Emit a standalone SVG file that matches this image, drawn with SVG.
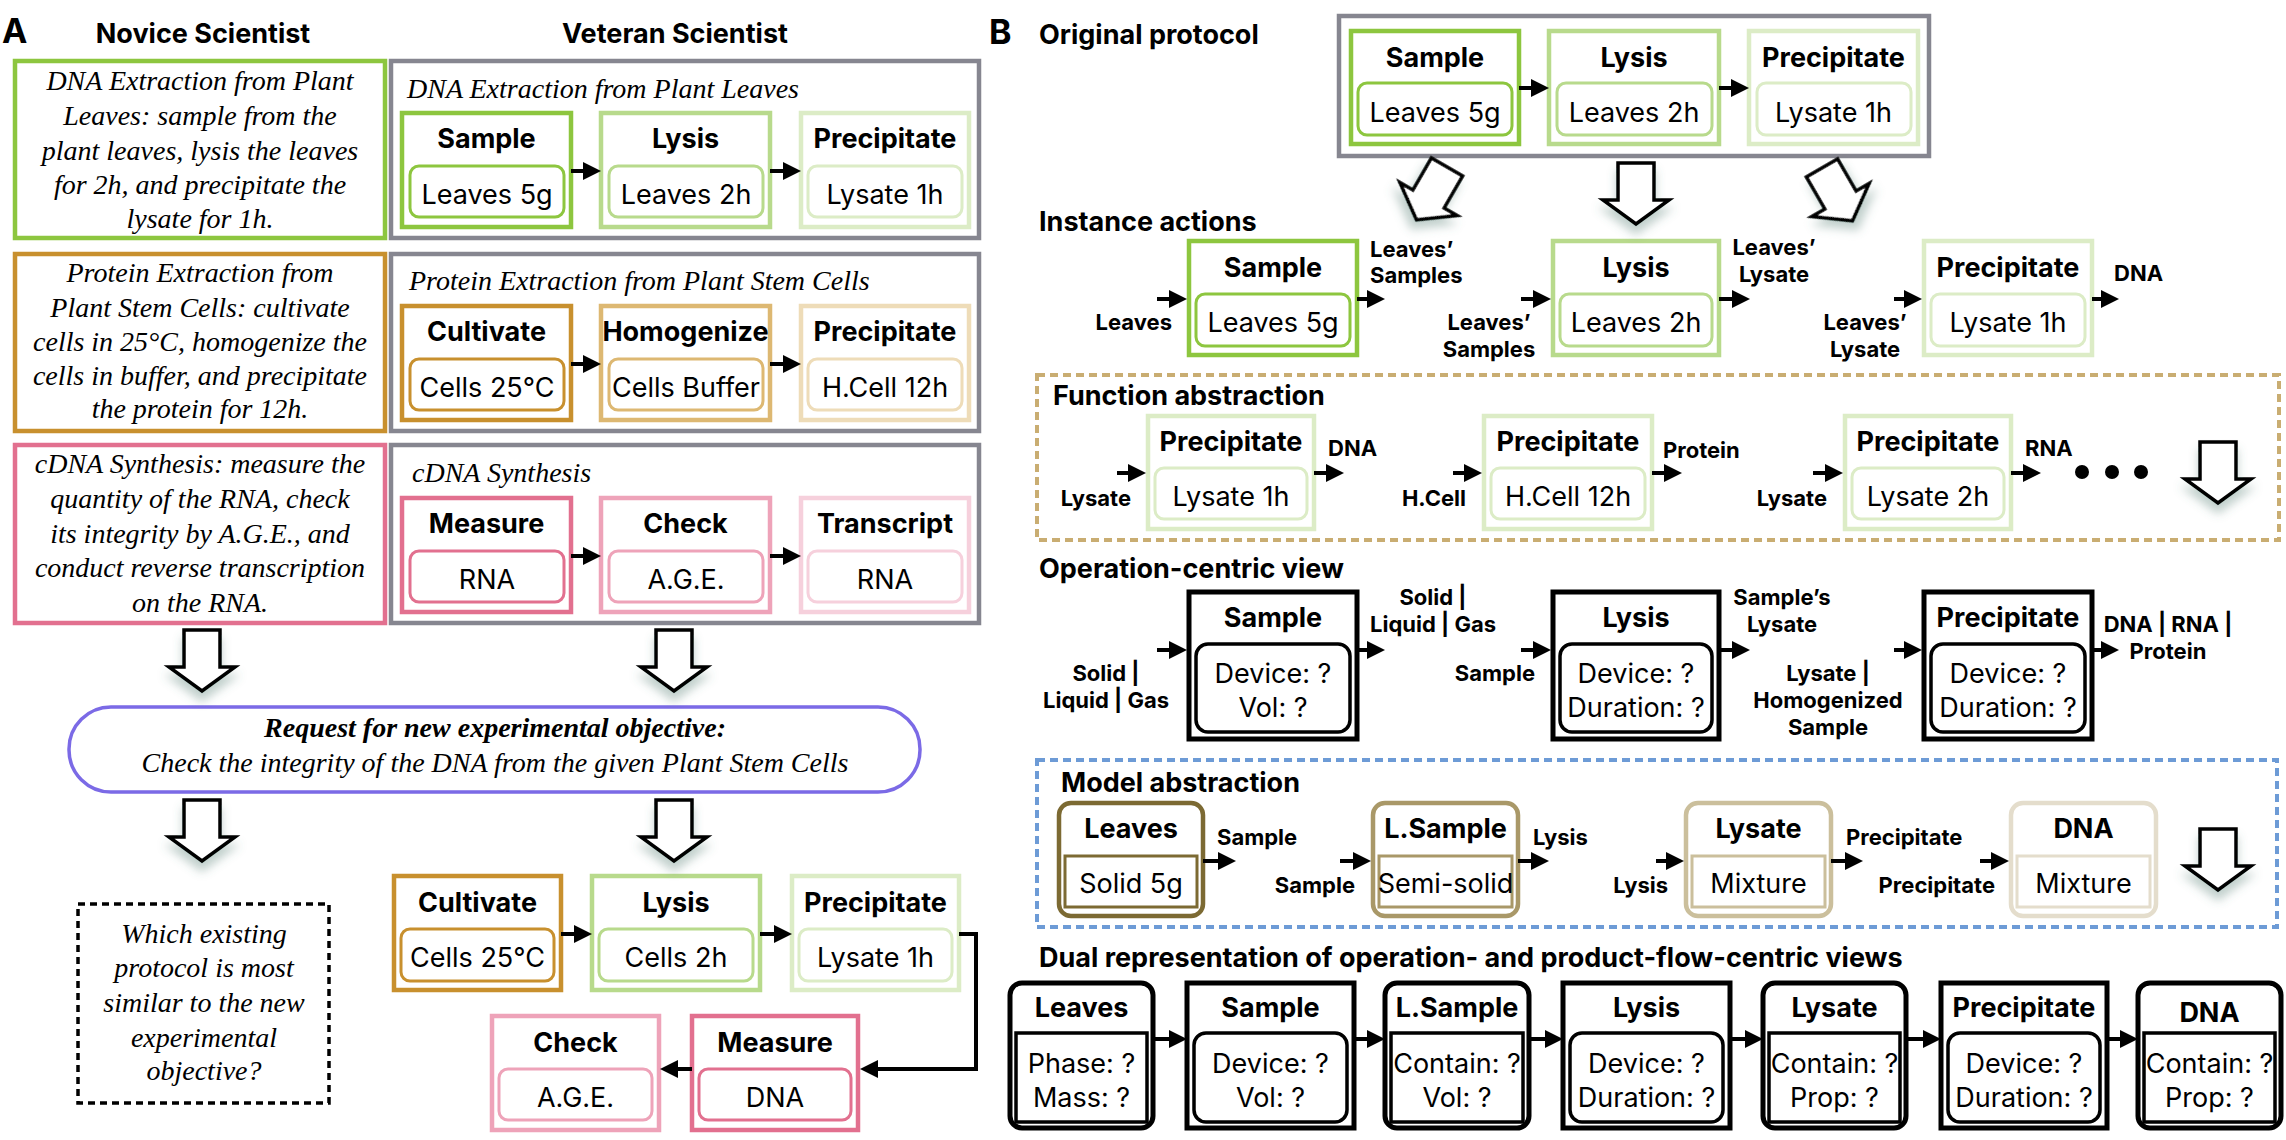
<svg xmlns="http://www.w3.org/2000/svg" width="2286" height="1140" viewBox="0 0 2286 1140">
<defs>
<style>
.bg{fill:#ffffff}
.box{fill:#fff;stroke-width:4.5}
.inr{fill:#fff;stroke-width:3}
.blk{fill:#fff;stroke:#000;stroke-width:5}
.blki{fill:#fff;stroke:#000;stroke-width:3.5}
.t{font-family:Inter,"Liberation Sans",sans-serif;font-weight:700;font-size:27px;text-anchor:middle;fill:#000}
.v{font-family:Inter,"Liberation Sans",sans-serif;font-weight:400;font-size:27px;text-anchor:middle;fill:#000}
.l{font-family:Inter,"Liberation Sans",sans-serif;font-weight:700;font-size:22px;fill:#000}
.lm{text-anchor:middle}
.le{text-anchor:end}
.h{font-family:Inter,"Liberation Sans",sans-serif;font-weight:700;font-size:27px;fill:#000}
.s{font-family:"Liberation Serif",serif;font-style:italic;font-size:28px;fill:#000}
.sm{text-anchor:middle}
.con{fill:none;stroke:#000;stroke-width:4}
.hol{fill:#fff;stroke:#000;stroke-width:3.5;stroke-linejoin:miter}
.g1{stroke:#8dc63f}.g2{stroke:#b8da8c}.g3{stroke:#dcecc6}
.o1{stroke:#c8902e}.o2{stroke:#ddb872}.o3{stroke:#eedcb8}
.p1{stroke:#e2708f}.p2{stroke:#eea3b9}.p3{stroke:#f6d0dc}
.gr{fill:#fff;stroke:#868690;stroke-width:4.5}
.m1{stroke:#7c6a33}.m2{stroke:#a99868}.m3{stroke:#cbbf9c}.m4{stroke:#e4ddcc}
</style>
<marker id="ah" markerUnits="userSpaceOnUse" markerWidth="18" markerHeight="18" refX="1" refY="9" orient="auto">
<path d="M0,0 L18,9 L0,18 Z" fill="#000"/>
</marker>
<filter id="sh" x="-60%" y="-40%" width="220%" height="200%">
<feDropShadow dx="0" dy="9" stdDeviation="5" flood-color="#4d7a70" flood-opacity="0.35"/>
</filter>
<path id="hollow" d="M-18,0 H18 V37 H33 L0,61 L-33,37 H-18 Z"/>
</defs>
<rect class="bg" x="0" y="0" width="2286" height="1140"/>

<!-- Panel A headers -->
<text class="h" x="2" y="43" style="font-size:34px">A</text>
<text class="h" x="203" y="43" text-anchor="middle">Novice Scientist</text>
<text class="h" x="675" y="43" text-anchor="middle">Veteran Scientist</text>

<!-- Novice boxes -->
<g id="novice-dna">
<rect class="box g1" x="15" y="61" width="370" height="177"/>
<text class="s sm" x="200" y="90">DNA Extraction from Plant</text>
<text class="s sm" x="200" y="125">Leaves: sample from the</text>
<text class="s sm" x="200" y="160">plant leaves, lysis the leaves</text>
<text class="s sm" x="200" y="194">for 2h, and precipitate the</text>
<text class="s sm" x="200" y="228">lysate for 1h.</text>
</g>
<g id="novice-protein">
<rect class="box o1" x="15" y="254" width="370" height="177"/>
<text class="s sm" x="200" y="282">Protein Extraction from</text>
<text class="s sm" x="200" y="317">Plant Stem Cells: cultivate</text>
<text class="s sm" x="200" y="351">cells in 25°C, homogenize the</text>
<text class="s sm" x="200" y="385">cells in buffer, and precipitate</text>
<text class="s sm" x="200" y="418">the protein for 12h.</text>
</g>
<g id="novice-cdna">
<rect class="box p1" x="15" y="445" width="370" height="178"/>
<text class="s sm" x="200" y="473">cDNA Synthesis: measure the</text>
<text class="s sm" x="200" y="508">quantity of the RNA, check</text>
<text class="s sm" x="200" y="543">its integrity by A.G.E., and</text>
<text class="s sm" x="200" y="577">conduct reverse transcription</text>
<text class="s sm" x="200" y="612">on the RNA.</text>
</g>

<!-- Veteran protocol 1 -->
<g id="vet-dna">
<rect class="gr" x="391" y="61" width="588" height="177"/>
<text class="s" x="407" y="98">DNA Extraction from Plant Leaves</text>
</g>
<g id="vet-dna-sample">
<rect class="box g1" x="402" y="113" width="169" height="114"/>
<rect class="inr g1" x="410" y="166" width="154" height="51" rx="9"/>
<text class="t" x="486.5" y="148">Sample</text>
<text class="v" x="487" y="204">Leaves 5g</text>
</g>
<g id="vet-dna-lysis">
<rect class="box g2" x="601" y="113" width="169" height="114"/>
<rect class="inr g2" x="609" y="166" width="154" height="51" rx="9"/>
<text class="t" x="685.5" y="148">Lysis</text>
<text class="v" x="686" y="204">Leaves 2h</text>
</g>
<g id="vet-dna-precip">
<rect class="box g3" x="801" y="113" width="168" height="114"/>
<rect class="inr g3" x="808" y="166" width="154" height="51" rx="9"/>
<text class="t" x="885" y="148">Precipitate</text>
<text class="v" x="885" y="204">Lysate 1h</text>
</g>

<!-- Veteran protocol 2 -->
<g id="vet-protein">
<rect class="gr" x="391" y="254" width="588" height="177"/>
<text class="s" x="409" y="290">Protein Extraction from Plant Stem Cells</text>
</g>
<g id="vet-protein-cultivate">
<rect class="box o1" x="402" y="306" width="169" height="114"/>
<rect class="inr o1" x="410" y="359" width="154" height="51" rx="9"/>
<text class="t" x="486.5" y="341">Cultivate</text>
<text class="v" x="487" y="397">Cells 25°C</text>
</g>
<g id="vet-protein-homogenize">
<rect class="box o2" x="601" y="306" width="169" height="114"/>
<rect class="inr o2" x="609" y="359" width="154" height="51" rx="9"/>
<text class="t" x="685.5" y="341">Homogenize</text>
<text class="v" x="686" y="397">Cells Buffer</text>
</g>
<g id="vet-protein-precip">
<rect class="box o3" x="801" y="306" width="168" height="114"/>
<rect class="inr o3" x="808" y="359" width="154" height="51" rx="9"/>
<text class="t" x="885" y="341">Precipitate</text>
<text class="v" x="885" y="397">H.Cell 12h</text>
</g>

<!-- Veteran protocol 3 -->
<g id="vet-cdna">
<rect class="gr" x="391" y="445" width="588" height="178"/>
<text class="s" x="412" y="482">cDNA Synthesis</text>
</g>
<g id="vet-cdna-measure">
<rect class="box p1" x="402" y="498" width="169" height="114"/>
<rect class="inr p1" x="410" y="551" width="154" height="51" rx="9"/>
<text class="t" x="486.5" y="533">Measure</text>
<text class="v" x="487" y="589">RNA</text>
</g>
<g id="vet-cdna-check">
<rect class="box p2" x="601" y="498" width="169" height="114"/>
<rect class="inr p2" x="609" y="551" width="154" height="51" rx="9"/>
<text class="t" x="685.5" y="533">Check</text>
<text class="v" x="686" y="589">A.G.E.</text>
</g>
<g id="vet-cdna-transcript">
<rect class="box p3" x="801" y="498" width="168" height="114"/>
<rect class="inr p3" x="808" y="551" width="154" height="51" rx="9"/>
<text class="t" x="885" y="533">Transcript</text>
<text class="v" x="885" y="589">RNA</text>
</g>

<!-- Request -->
<g id="request">
<rect x="69" y="707" width="851" height="85" rx="42" fill="#fff" stroke="#7b6ae6" stroke-width="3.5"/>
<text class="s sm" x="495" y="737" font-weight="700">Request for new experimental objective:</text>
<text class="s sm" x="495" y="772">Check the integrity of the DNA from the given Plant Stem Cells</text>
</g>

<!-- Question -->
<g id="question">
<rect x="78" y="904" width="251" height="199" fill="#fff" stroke="#000" stroke-width="3.5" stroke-dasharray="7 5"/>
<text class="s sm" x="204" y="943">Which existing</text>
<text class="s sm" x="204" y="977">protocol is most</text>
<text class="s sm" x="204" y="1012">similar to the new</text>
<text class="s sm" x="204" y="1047">experimental</text>
<text class="s sm" x="204" y="1080">objective?</text>
</g>

<!-- New workflow -->
<g id="new-cultivate">
<rect class="box o1" x="394" y="876" width="167" height="114"/>
<rect class="inr o1" x="401" y="929" width="153" height="52" rx="9"/>
<text class="t" x="477.5" y="912">Cultivate</text>
<text class="v" x="477.5" y="967">Cells 25°C</text>
</g>
<g id="new-lysis">
<rect class="box g2" x="592" y="876" width="168" height="114"/>
<rect class="inr g2" x="599" y="929" width="154" height="52" rx="9"/>
<text class="t" x="676" y="912">Lysis</text>
<text class="v" x="676" y="967">Cells 2h</text>
</g>
<g id="new-precip">
<rect class="box g3" x="792" y="876" width="167" height="114"/>
<rect class="inr g3" x="799" y="929" width="153" height="52" rx="9"/>
<text class="t" x="875.5" y="912">Precipitate</text>
<text class="v" x="875.5" y="967">Lysate 1h</text>
</g>
<g id="new-measure">
<rect class="box p1" x="692" y="1016" width="166" height="114"/>
<rect class="inr p1" x="699" y="1069" width="152" height="51" rx="9"/>
<text class="t" x="775" y="1052">Measure</text>
<text class="v" x="775" y="1107">DNA</text>
</g>
<g id="new-check">
<rect class="box p2" x="492" y="1016" width="167" height="114"/>
<rect class="inr p2" x="499" y="1069" width="153" height="51" rx="9"/>
<text class="t" x="575.5" y="1052">Check</text>
<text class="v" x="575.5" y="1107">A.G.E.</text>
</g>

<!-- Panel B -->
<text class="h" x="989" y="44" style="font-size:34px">B</text>
<text class="h" x="1039" y="44">Original protocol</text>
<text class="h" x="1039" y="231">Instance actions</text>
<text class="h" x="1039" y="578">Operation-centric view</text>
<text class="h" x="1039" y="967">Dual representation of operation- and product-flow-centric views</text>

<g id="orig">
<rect class="gr" x="1339" y="16" width="590" height="140"/>
</g>
<g id="orig-sample">
<rect class="box g1" x="1351" y="31" width="168" height="113"/>
<rect class="inr g1" x="1358" y="83" width="154" height="52" rx="9"/>
<text class="t" x="1435" y="67">Sample</text>
<text class="v" x="1435" y="122">Leaves 5g</text>
</g>
<g id="orig-lysis">
<rect class="box g2" x="1549" y="31" width="170" height="113"/>
<rect class="inr g2" x="1557" y="83" width="155" height="52" rx="9"/>
<text class="t" x="1634" y="67">Lysis</text>
<text class="v" x="1634" y="122">Leaves 2h</text>
</g>
<g id="orig-precip">
<rect class="box g3" x="1749" y="31" width="169" height="113"/>
<rect class="inr g3" x="1757" y="83" width="154" height="52" rx="9"/>
<text class="t" x="1833.5" y="67">Precipitate</text>
<text class="v" x="1833.5" y="122">Lysate 1h</text>
</g>

<!-- Instance actions -->
<g id="inst-sample">
<rect class="box g1" x="1189" y="241" width="168" height="114"/>
<rect class="inr g1" x="1196" y="294" width="154" height="52" rx="9"/>
<text class="t" x="1273" y="277">Sample</text>
<text class="v" x="1273" y="332">Leaves 5g</text>
</g>
<g id="inst-lysis">
<rect class="box g2" x="1553" y="241" width="166" height="114"/>
<rect class="inr g2" x="1560" y="294" width="152" height="52" rx="9"/>
<text class="t" x="1636" y="277">Lysis</text>
<text class="v" x="1636" y="332">Leaves 2h</text>
</g>
<g id="inst-precip">
<rect class="box g3" x="1924" y="241" width="168" height="114"/>
<rect class="inr g3" x="1931" y="294" width="154" height="52" rx="9"/>
<text class="t" x="2008" y="277">Precipitate</text>
<text class="v" x="2008" y="332">Lysate 1h</text>
</g>
<g id="inst-labels">
<text class="l le" x="1172" y="330">Leaves</text>
<text class="l" x="1370" y="257">Leaves’</text>
<text class="l" x="1370" y="283">Samples</text>
<text class="l lm" x="1489" y="330">Leaves’</text>
<text class="l lm" x="1489" y="357">Samples</text>
<text class="l lm" x="1774" y="255">Leaves’</text>
<text class="l lm" x="1774" y="282">Lysate</text>
<text class="l lm" x="1865" y="330">Leaves’</text>
<text class="l lm" x="1865" y="357">Lysate</text>
<text class="l" x="2114" y="281">DNA</text>
</g>

<!-- Function abstraction -->
<g id="func">
<rect x="1037" y="375" width="1242" height="165" fill="none" stroke="#c9ad72" stroke-width="4" stroke-dasharray="8 5"/>
<text class="h" x="1053" y="405">Function abstraction</text>
</g>
<g id="func-1">
<rect class="box g3" x="1148" y="416" width="166" height="113"/>
<rect class="inr g3" x="1155" y="468" width="152" height="51" rx="9"/>
<text class="t" x="1231" y="451">Precipitate</text>
<text class="v" x="1231" y="506">Lysate 1h</text>
</g>
<g id="func-2">
<rect class="box g3" x="1484" y="416" width="168" height="113"/>
<rect class="inr g3" x="1491" y="468" width="154" height="51" rx="9"/>
<text class="t" x="1568" y="451">Precipitate</text>
<text class="v" x="1568" y="506">H.Cell 12h</text>
</g>
<g id="func-3">
<rect class="box g3" x="1845" y="416" width="166" height="113"/>
<rect class="inr g3" x="1852" y="468" width="152" height="51" rx="9"/>
<text class="t" x="1928" y="451">Precipitate</text>
<text class="v" x="1928" y="506">Lysate 2h</text>
</g>
<g id="func-labels">
<text class="l le" x="1131" y="506">Lysate</text>
<text class="l" x="1328" y="456">DNA</text>
<text class="l le" x="1466" y="506">H.Cell</text>
<text class="l" x="1663" y="458">Protein</text>
<text class="l le" x="1827" y="506">Lysate</text>
<text class="l" x="2025" y="456">RNA</text>
<circle cx="2082" cy="472" r="7"/>
<circle cx="2112" cy="472" r="7"/>
<circle cx="2141" cy="472" r="7"/>
</g>

<!-- Operation-centric -->
<g id="op-sample">
<rect class="blk" x="1189" y="592" width="168" height="147"/>
<rect class="blki" x="1196" y="644" width="154" height="88" rx="12"/>
<text class="t" x="1273" y="627">Sample</text>
<text class="v" x="1273" y="683">Device: ?</text>
<text class="v" x="1273" y="717">Vol: ?</text>
</g>
<g id="op-lysis">
<rect class="blk" x="1553" y="592" width="166" height="147"/>
<rect class="blki" x="1560" y="644" width="152" height="88" rx="12"/>
<text class="t" x="1636" y="627">Lysis</text>
<text class="v" x="1636" y="683">Device: ?</text>
<text class="v" x="1636" y="717">Duration: ?</text>
</g>
<g id="op-precip">
<rect class="blk" x="1924" y="592" width="168" height="147"/>
<rect class="blki" x="1931" y="644" width="154" height="88" rx="12"/>
<text class="t" x="2008" y="627">Precipitate</text>
<text class="v" x="2008" y="683">Device: ?</text>
<text class="v" x="2008" y="717">Duration: ?</text>
</g>
<g id="op-labels">
<text class="l lm" x="1106" y="681">Solid |</text>
<text class="l lm" x="1106" y="708">Liquid | Gas</text>
<text class="l lm" x="1433" y="605">Solid |</text>
<text class="l lm" x="1433" y="632">Liquid | Gas</text>
<text class="l le" x="1535" y="681">Sample</text>
<text class="l lm" x="1782" y="605">Sample’s</text>
<text class="l lm" x="1782" y="632">Lysate</text>
<text class="l lm" x="1828" y="681">Lysate |</text>
<text class="l lm" x="1828" y="708">Homogenized</text>
<text class="l lm" x="1828" y="735">Sample</text>
<text class="l lm" x="2168" y="632">DNA | RNA |</text>
<text class="l lm" x="2168" y="659">Protein</text>
</g>

<!-- Model abstraction -->
<g id="model">
<rect x="1037" y="760" width="1240" height="167" fill="none" stroke="#6d9bd6" stroke-width="4" stroke-dasharray="8 5"/>
<text class="h" x="1061" y="792">Model abstraction</text>
</g>
<g id="model-leaves">
<rect class="box m1" x="1059" y="803" width="144" height="113" rx="12"/>
<rect class="inr m1" x="1065" y="856" width="132" height="51" stroke-width="3.5"/>
<text class="t" x="1131" y="838">Leaves</text>
<text class="v" x="1131" y="893">Solid 5g</text>
</g>
<g id="model-lsample">
<rect class="box m2" x="1373" y="803" width="145" height="113" rx="12"/>
<rect class="inr m2" x="1379" y="856" width="133" height="51" stroke-width="3.5"/>
<text class="t" x="1445.5" y="838">L.Sample</text>
<text class="v" x="1445.5" y="893">Semi-solid</text>
</g>
<g id="model-lysate">
<rect class="box m3" x="1686" y="803" width="145" height="113" rx="12"/>
<rect class="inr m3" x="1692" y="856" width="133" height="51" stroke-width="3.5"/>
<text class="t" x="1758.5" y="838">Lysate</text>
<text class="v" x="1758.5" y="893">Mixture</text>
</g>
<g id="model-dna">
<rect class="box m4" x="2011" y="803" width="145" height="113" rx="12"/>
<rect class="inr m4" x="2017" y="856" width="133" height="51" stroke-width="3.5"/>
<text class="t" x="2083.5" y="838">DNA</text>
<text class="v" x="2083.5" y="893">Mixture</text>
</g>
<g id="model-labels">
<text class="l" x="1217" y="845">Sample</text>
<text class="l le" x="1355" y="893">Sample</text>
<text class="l" x="1533" y="845">Lysis</text>
<text class="l le" x="1668" y="893">Lysis</text>
<text class="l" x="1846" y="845">Precipitate</text>
<text class="l le" x="1995" y="893">Precipitate</text>
</g>

<!-- Dual representation -->
<g id="dual-leaves">
<rect class="blk" x="1010" y="983" width="143" height="145" rx="12"/>
<rect class="blki" x="1016" y="1033" width="131" height="89"/>
<text class="t" x="1081.5" y="1017">Leaves</text>
<text class="v" x="1081.5" y="1073">Phase: ?</text>
<text class="v" x="1081.5" y="1107">Mass: ?</text>
</g>
<g id="dual-sample">
<rect class="blk" x="1187" y="983" width="167" height="145"/>
<rect class="blki" x="1194" y="1033" width="153" height="89" rx="12"/>
<text class="t" x="1270.5" y="1017">Sample</text>
<text class="v" x="1270.5" y="1073">Device: ?</text>
<text class="v" x="1270.5" y="1107">Vol: ?</text>
</g>
<g id="dual-lsample">
<rect class="blk" x="1385" y="983" width="144" height="145" rx="12"/>
<rect class="blki" x="1391" y="1033" width="132" height="89"/>
<text class="t" x="1457" y="1017">L.Sample</text>
<text class="v" x="1457" y="1073">Contain: ?</text>
<text class="v" x="1457" y="1107">Vol: ?</text>
</g>
<g id="dual-lysis">
<rect class="blk" x="1563" y="983" width="167" height="145"/>
<rect class="blki" x="1570" y="1033" width="153" height="89" rx="12"/>
<text class="t" x="1646.5" y="1017">Lysis</text>
<text class="v" x="1646.5" y="1073">Device: ?</text>
<text class="v" x="1646.5" y="1107">Duration: ?</text>
</g>
<g id="dual-lysate">
<rect class="blk" x="1763" y="983" width="143" height="145" rx="12"/>
<rect class="blki" x="1769" y="1033" width="131" height="89"/>
<text class="t" x="1834.5" y="1017">Lysate</text>
<text class="v" x="1834.5" y="1073">Contain: ?</text>
<text class="v" x="1834.5" y="1107">Prop: ?</text>
</g>
<g id="dual-precip">
<rect class="blk" x="1941" y="983" width="166" height="145"/>
<rect class="blki" x="1948" y="1033" width="152" height="89" rx="12"/>
<text class="t" x="2024" y="1017">Precipitate</text>
<text class="v" x="2024" y="1073">Device: ?</text>
<text class="v" x="2024" y="1107">Duration: ?</text>
</g>
<g id="dual-dna">
<rect class="blk" x="2138" y="983" width="143" height="145" rx="12"/>
<rect class="blki" x="2144" y="1033" width="131" height="89"/>
<text class="t" x="2209.5" y="1022">DNA</text>
<text class="v" x="2209.5" y="1073">Contain: ?</text>
<text class="v" x="2209.5" y="1107">Prop: ?</text>
</g>

<!-- Connectors -->
<g id="connectors">
<path class="con" marker-end="url(#ah)" d="M571,171 H584"/>
<path class="con" marker-end="url(#ah)" d="M770,171 H784"/>
<path class="con" marker-end="url(#ah)" d="M571,364 H584"/>
<path class="con" marker-end="url(#ah)" d="M770,364 H784"/>
<path class="con" marker-end="url(#ah)" d="M571,556 H584"/>
<path class="con" marker-end="url(#ah)" d="M770,556 H784"/>
<path class="con" marker-end="url(#ah)" d="M561,934 H575"/>
<path class="con" marker-end="url(#ah)" d="M760,934 H775"/>
<path class="con" marker-end="url(#ah)" d="M959,934 H976 V1069 H877"/>
<path class="con" marker-end="url(#ah)" d="M692,1069 H677"/>

<path class="con" marker-end="url(#ah)" d="M1519,88 H1532"/>
<path class="con" marker-end="url(#ah)" d="M1719,88 H1732"/>

<path class="con" marker-end="url(#ah)" d="M1157,299 H1170"/>
<path class="con" marker-end="url(#ah)" d="M1357,299 H1368"/>
<path class="con" marker-end="url(#ah)" d="M1521,299 H1534"/>
<path class="con" marker-end="url(#ah)" d="M1719,299 H1733"/>
<path class="con" marker-end="url(#ah)" d="M1894,299 H1905"/>
<path class="con" marker-end="url(#ah)" d="M2092,299 H2102"/>

<path class="con" marker-end="url(#ah)" d="M1117,473 H1129"/>
<path class="con" marker-end="url(#ah)" d="M1314,473 H1327"/>
<path class="con" marker-end="url(#ah)" d="M1453,473 H1465"/>
<path class="con" marker-end="url(#ah)" d="M1652,473 H1665"/>
<path class="con" marker-end="url(#ah)" d="M1813,473 H1826"/>
<path class="con" marker-end="url(#ah)" d="M2011,473 H2024"/>

<path class="con" marker-end="url(#ah)" d="M1157,650 H1170"/>
<path class="con" marker-end="url(#ah)" d="M1357,650 H1368"/>
<path class="con" marker-end="url(#ah)" d="M1521,650 H1534"/>
<path class="con" marker-end="url(#ah)" d="M1719,650 H1733"/>
<path class="con" marker-end="url(#ah)" d="M1894,650 H1905"/>
<path class="con" marker-end="url(#ah)" d="M2092,650 H2102"/>

<path class="con" marker-end="url(#ah)" d="M1203,861 H1219"/>
<path class="con" marker-end="url(#ah)" d="M1340,861 H1354"/>
<path class="con" marker-end="url(#ah)" d="M1518,861 H1532"/>
<path class="con" marker-end="url(#ah)" d="M1656,861 H1667"/>
<path class="con" marker-end="url(#ah)" d="M1831,861 H1846"/>
<path class="con" marker-end="url(#ah)" d="M1980,861 H1992"/>

<path class="con" marker-end="url(#ah)" d="M1153,1039 H1170"/>
<path class="con" marker-end="url(#ah)" d="M1354,1039 H1368"/>
<path class="con" marker-end="url(#ah)" d="M1529,1039 H1546"/>
<path class="con" marker-end="url(#ah)" d="M1730,1039 H1746"/>
<path class="con" marker-end="url(#ah)" d="M1906,1039 H1924"/>
<path class="con" marker-end="url(#ah)" d="M2107,1039 H2121"/>

<!-- hollow block arrows -->
<use href="#hollow" class="hol" filter="url(#sh)" transform="translate(202,630)"/>
<use href="#hollow" class="hol" filter="url(#sh)" transform="translate(674,630)"/>
<use href="#hollow" class="hol" filter="url(#sh)" transform="translate(202,800)"/>
<use href="#hollow" class="hol" filter="url(#sh)" transform="translate(674,800)"/>
<use href="#hollow" class="hol" filter="url(#sh)" transform="translate(1447,167) rotate(30)"/>
<use href="#hollow" class="hol" filter="url(#sh)" transform="translate(1636,163)"/>
<use href="#hollow" class="hol" filter="url(#sh)" transform="translate(1822,168) rotate(-30)"/>
<use href="#hollow" class="hol" filter="url(#sh)" transform="translate(2218,442)"/>
<use href="#hollow" class="hol" filter="url(#sh)" transform="translate(2218,829)"/>
</g>
</svg>
